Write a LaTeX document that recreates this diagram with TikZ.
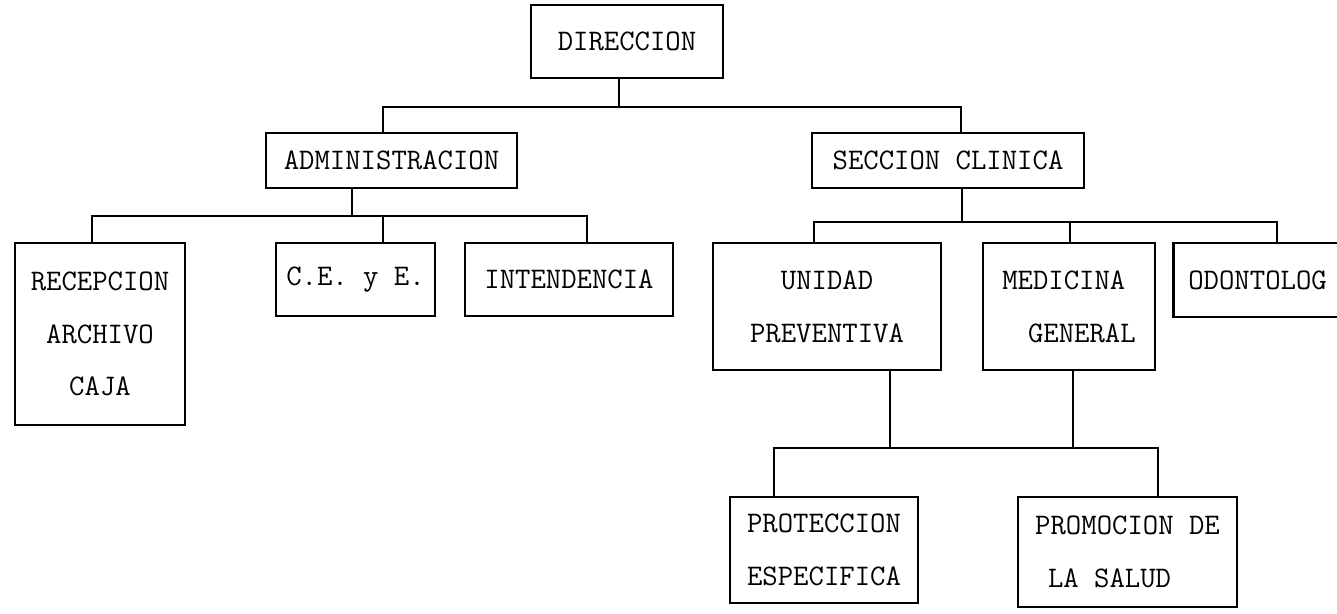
\documentclass[tikz,border=0pt]{standalone}
\usepackage{tikz}
\usetikzlibrary{positioning,calc}
\newcommand{\pxu}{0.02cm}

\begin{document}
\begin{tikzpicture}[
  x=0.02cm, y=-0.02cm,
  font=\ttfamily\fontsize{17}{30}\selectfont,
  unit/.style={draw=black, line width=1.5pt, inner sep=0pt, align=center},
  link/.style={draw=black, line width=1.5pt, line cap=rect},
]
\useasboundingbox (0,0) rectangle (1337,613);
\clip (0,0) rectangle (1337,613);

% top
\node[unit, minimum width=192*\pxu, minimum height=73*\pxu] (dir) at (627,41.5) {DIRECCION};

% second level
\node[unit, minimum width=251*\pxu, minimum height=55*\pxu] (admin) at (391.5,160.5) {ADMINISTRACION};
\node[unit, minimum width=272*\pxu, minimum height=55*\pxu] (secc) at (948,160.5) {SECCION CLINICA};

% administracion (left)
\node[unit, minimum width=170*\pxu, minimum height=182*\pxu] (recep) at (100,334) {RECEPCION\\ARCHIVO\\CAJA};
\node[unit, minimum width=159*\pxu, minimum height=73*\pxu] (ceye) at (355.5,279.5) {C.E. y E.};
\node[unit, minimum width=208*\pxu, minimum height=73*\pxu] (inten) at (569,279.5) {INTENDENCIA};

% seccion clinica (right)
\node[unit, minimum width=228*\pxu, minimum height=127*\pxu] (unidad) at (827,306.5) {UNIDAD\\PREVENTIVA};
\node[unit, minimum width=172*\pxu, minimum height=127*\pxu, align=left] (medic) at (1069,306.5) {MEDICINA\\\hspace*{2ex}GENERAL};
\node[unit, anchor=west, minimum height=74*\pxu, inner xsep=15*\pxu, text width=200*\pxu, align=left] (odont) at (1172,280) {ODONTOLOG};

% bottom
\node[unit, minimum width=188*\pxu, minimum height=106*\pxu] (protec) at (824,550) {PROTECCION\\ESPECIFICA};
\node[unit, minimum width=219*\pxu, minimum height=110*\pxu, align=left] (promo) at (1127.5,552) {PROMOCION DE\\\hspace*{1ex}LA SALUD};

% connectors, level 1
\coordinate (j1) at (619,107);
\coordinate (a1) at (383,107);
\coordinate (s1) at (961,107);
\draw[link] (dir.south -| j1) -- (j1);
\draw[link] (admin.north -| a1) -- (a1) -- (s1) -- (secc.north -| s1);

% connectors, level 2 (left)
\coordinate (a2) at (352,216);
\coordinate (r2) at (92,216);
\coordinate (c2) at (383,216);
\coordinate (i2) at (587,216);
\draw[link] (admin.south -| a2) -- (a2);
\draw[link] (recep.north -| r2) -- (r2) -- (i2) -- (inten.north -| i2);
\draw[link] (c2) -- (ceye.north -| c2);

% connectors, level 2 (right)
\coordinate (s2) at (962,222);
\coordinate (u2) at (814,222);
\coordinate (m2) at (1070,222);
\coordinate (o2) at (1277,222);
\draw[link] (secc.south -| s2) -- (s2);
\draw[link] (unidad.north -| u2) -- (u2) -- (o2) -- (odont.north -| o2);
\draw[link] (m2) -- (medic.north -| m2);

% connectors, level 3
\coordinate (u3) at (890,448);
\coordinate (m3) at (1073,448);
\coordinate (p3) at (774,448);
\coordinate (q3) at (1158,448);
\draw[link] (unidad.south -| u3) -- (u3);
\draw[link] (medic.south -| m3) -- (m3);
\draw[link] (protec.north -| p3) -- (p3) -- (q3) -- (promo.north -| q3);
\end{tikzpicture}
\end{document}
